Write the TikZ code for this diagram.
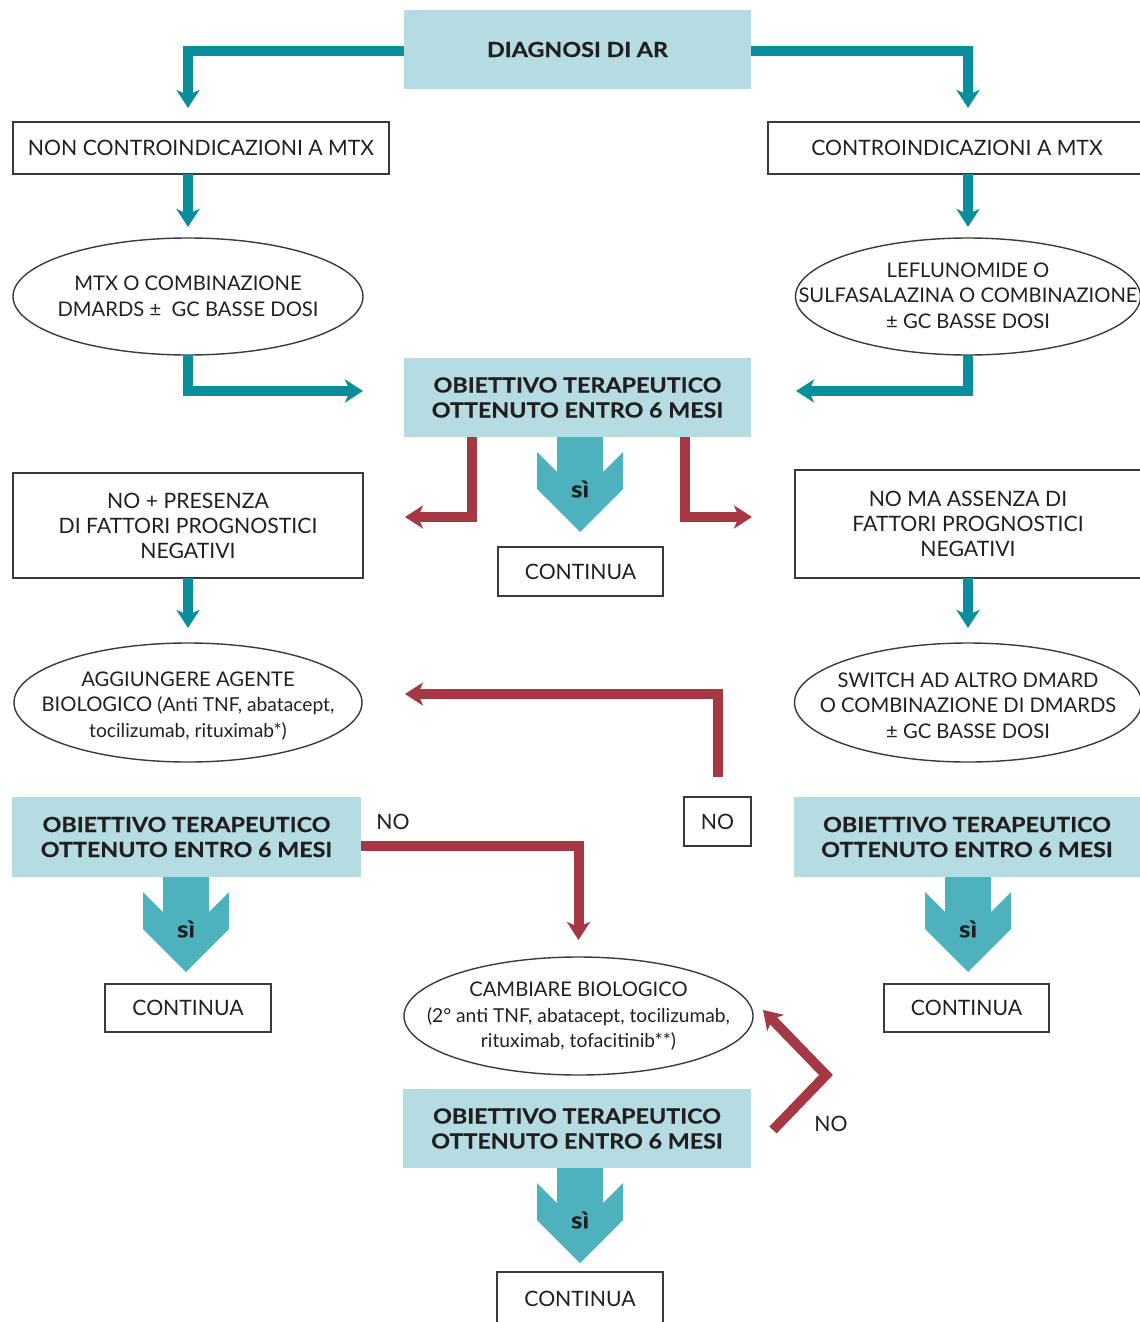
\documentclass[tikz,border=0pt]{standalone}
\usepackage{fontspec}
\setmainfont{Lato}
\newfontfamily\objfont{Lato}[FakeStretch=1.12, FakeBold=0.5]
\usetikzlibrary{arrows.meta,shapes.geometric}
\definecolor{boxfill}{HTML}{B5DCE2}
\definecolor{tealline}{HTML}{0A8E9D}
\definecolor{sifill}{HTML}{4DB2BE}
\definecolor{redline}{HTML}{A63843}
\definecolor{txt}{HTML}{231F20}
\definecolor{bord}{HTML}{3A3A3A}
\newcommand{\smallpar}{\fontsize{19.2}{25.5}\selectfont}
\begin{document}
\begin{tikzpicture}[x=1pt,y=-1pt,
  every node/.style={text=txt, align=center, inner sep=0pt, outer sep=0pt},
  whitebox/.style={draw=bord, line width=1.4pt, font=\fontsize{21.2}{25}\selectfont},
  objbox/.style={fill=boxfill, font=\objfont\bfseries\fontsize{20.8}{25}\selectfont},
  ellshape/.style={ellipse, draw=bord, line width=1.4pt},
  elltext/.style={font=\fontsize{20.2}{25.5}\selectfont},
  tl/.style={draw=tealline, line width=10pt, -{Stealth[length=18pt,width=23pt,inset=5pt]}},
  rl/.style={draw=redline, line width=10pt, -{Stealth[length=18pt,width=23pt,inset=5pt]}},
  sitext/.style={font=\objfont\bfseries\fontsize{23}{24}\selectfont},
  siarrow/.pic={
    \fill[sifill] (-23,0) -- (-23,35) -- (-43,15) -- (-43,52) -- (0,95) -- (43,52) -- (43,15) -- (23,35) -- (23,0) -- cycle;
    \node[sitext] (-t) at (0,52) {sì};
  }
]
\useasboundingbox (0,0) rectangle (1140,1322);

% nodes
\node[objbox, minimum width=347pt, minimum height=79pt] (diag) at (577.5,49.5) {DIAGNOSI DI AR};
\node[whitebox, minimum width=376pt, minimum height=52pt] (ncm) at (201,148) {NON CONTROINDICAZIONI A MTX};
\node[whitebox, minimum width=378pt, minimum height=52pt] (cm) at (957,148) {CONTROINDICAZIONI A MTX};

\node[ellshape, minimum width=350pt, minimum height=117pt] (ellL) at (188,296.5) {};
\node[elltext] (ellLt) at (ellL) {MTX O COMBINAZIONE\\DMARDS ±\ \ GC BASSE DOSI};
\node[ellshape, minimum width=345pt, minimum height=117pt] (ellR) at (968,296.5) {};
\node[elltext] (ellRt) at (968,295.5) {LEFLUNOMIDE O\\SULFASALAZINA O COMBINAZIONE\\± GC BASSE DOSI};

\node[objbox, minimum width=347pt, minimum height=79pt] (obj1) at (577.5,397.5) {OBIETTIVO TERAPEUTICO\\OTTENUTO ENTRO 6 MESI};

\node[whitebox, minimum width=350pt, minimum height=105pt] (nopres) at (188,525.5) {NO + PRESENZA\\DI FATTORI PROGNOSTICI\\NEGATIVI};
\node[whitebox, minimum width=346pt, minimum height=108pt] (noass) at (968,524) {NO MA ASSENZA DI\\FATTORI PROGNOSTICI\\NEGATIVI};
\node[whitebox, minimum width=165pt, minimum height=49pt] (cont1) at (580.5,571.5) {CONTINUA};

\node[ellshape, minimum width=348pt, minimum height=119pt] (ellAg) at (188,702.5) {};
\node[elltext] (ellAgt) at (188,706) {AGGIUNGERE AGENTE\\BIOLOGICO {\smallpar(Anti TNF, abatacept,}\\{\smallpar tocilizumab, rituximab*)}};
\node[ellshape, minimum width=347pt, minimum height=119pt] (ellSw) at (968,702.5) {};
\node[elltext] (ellSwt) at (968,705.5) {SWITCH AD ALTRO DMARD\\O COMBINAZIONE DI DMARDS\\± GC BASSE DOSI};

\node[whitebox, minimum width=67pt, minimum height=49pt] (nobox) at (717.5,821.5) {NO};
\node[objbox, minimum width=349pt, minimum height=80pt] (objL) at (186.5,837) {OBIETTIVO TERAPEUTICO\\OTTENUTO ENTRO 6 MESI};
\node[objbox, minimum width=346pt, minimum height=80pt] (objR) at (967,837) {OBIETTIVO TERAPEUTICO\\OTTENUTO ENTRO 6 MESI};
\node[font=\fontsize{21.2}{25}\selectfont] (nolab1) at (393,821.5) {NO};

\node[whitebox, minimum width=166pt, minimum height=48pt] (contL) at (188,1008) {CONTINUA};
\node[whitebox, minimum width=165pt, minimum height=48pt] (contR) at (966.5,1008) {CONTINUA};

\node[ellshape, minimum width=349pt, minimum height=118pt] (ellCB) at (578.5,1016) {};
\node[elltext] (ellCBt) at (578.5,1016.5) {CAMBIARE BIOLOGICO\\{\smallpar(2° anti TNF, abatacept, tocilizumab,}\\{\smallpar rituximab, tofacitinib**)}};

\node[objbox, minimum width=348pt, minimum height=79pt] (objB) at (577,1128.5) {OBIETTIVO TERAPEUTICO\\OTTENUTO ENTRO 6 MESI};
\node[font=\fontsize{21.2}{25}\selectfont] (nolab2) at (831,1124) {NO};
\node[whitebox, minimum width=166pt, minimum height=54pt] (contB) at (580,1299) {CONTINUA};

% si arrows
\pic (s1) at ([xshift=2.5pt]obj1.south) {siarrow};
\pic (s2) at ([xshift=-0.5pt]objL.south) {siarrow};
\pic (s3) at ([xshift=1pt]objR.south) {siarrow};
\pic (s4) at ([xshift=3pt]objB.south) {siarrow};

% teal connectors
\draw[tl, shorten >=14pt] ([yshift=-1.5pt]diag.west) -| ([xshift=-13pt]ncm.north);
\draw[tl, shorten >=14pt] ([yshift=-1.5pt]diag.east) -| ([xshift=11pt]cm.north);
\draw[tl, shorten >=11pt] ([xshift=-13pt]ncm.south) -- (ellL.north);
\draw[tl, shorten >=11pt] ([xshift=11pt]cm.south) -- (ellR.north);
\draw[tl, shorten >=41pt] (ellL.south) |- ([yshift=6.5pt]obj1.west);
\draw[tl, shorten >=45pt] (ellR.south) |- ([yshift=6.5pt]obj1.east);
\draw[tl, shorten >=15pt] (nopres.south) -- (ellAg.north);
\draw[tl, shorten >=15pt] (noass.south) -- (ellSw.north);

% red connectors
\draw[rl, shorten >=42pt] ([xshift=-105.5pt]obj1.south) |- ([yshift=8.5pt]nopres.east);
\draw[rl, shorten >=43pt] ([xshift=107.5pt]obj1.south) |- ([yshift=7pt]noass.west);
\draw[rl, shorten <=20pt, shorten >=43pt] (nobox.north) |- ([yshift=8.5pt]ellAg.east);
\draw[rl, shorten >=17pt] ([yshift=-9pt]objL.east) -| (ellCB.north);
\draw[rl] ([xshift=22pt,yshift=-1.5pt]objB.east) -- ++(53,-55) -- ([xshift=10pt,yshift=6pt]ellCB.east);
\end{tikzpicture}
\end{document}
